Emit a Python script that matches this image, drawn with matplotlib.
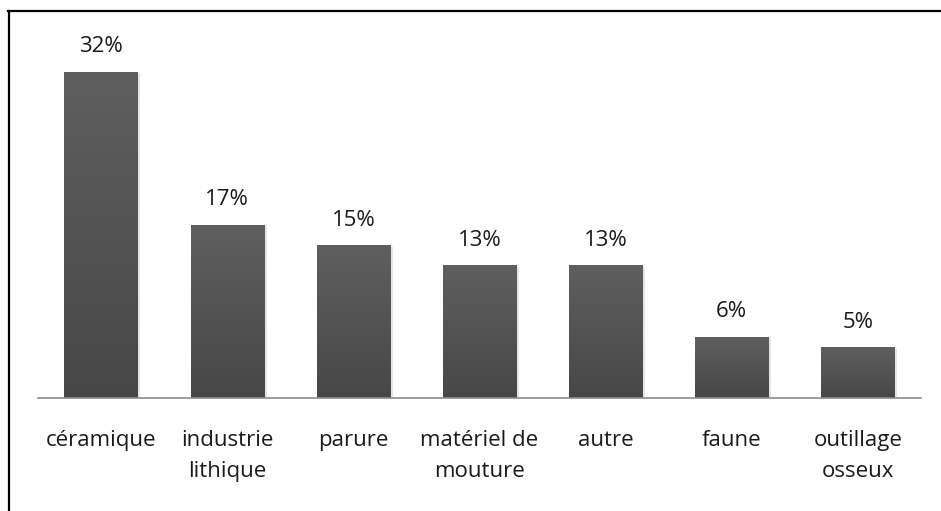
import matplotlib
matplotlib.use("Agg")
import matplotlib.pyplot as plt
from matplotlib.lines import Line2D
from matplotlib.colors import LinearSegmentedColormap
import numpy as np

categories = ["céramique", "industrie\nlithique", "parure", "matériel de\nmouture",
              "autre", "faune", "outillage\nosseux"]
values = [32, 17, 15, 13, 13, 6, 5]
labels = ["32%", "17%", "15%", "13%", "13%", "6%", "5%"]

W, H = 941, 511
fig = plt.figure(figsize=(W / 100, H / 100), dpi=100)
fig.patch.set_facecolor("white")

ax = fig.add_axes([38 / W, (H - 398) / H, (921 - 38) / W, (398 - 41) / H])
ax.set_xlim(-0.5, len(values) - 0.5)
ax.set_ylim(0, 35)

x = np.arange(len(values))
bw = 0.58
bars = ax.bar(x, values, width=bw, color="none", edgecolor="none", zorder=2)

grad = np.linspace(0, 1, 256).reshape(-1, 1)
cmap = LinearSegmentedColormap.from_list("g", ["#474747", "#5f5f5f"])
for b in bars:
    x0, y0 = b.get_x(), b.get_y()
    w, h = b.get_width(), b.get_height()
    ax.bar(x0 + w / 2 + 0.012, h, width=w + 0.02, bottom=y0 - 0.15,
           color="#d4d4d4", alpha=0.6, zorder=1)
    im = ax.imshow(grad, extent=[x0, x0 + w, y0, y0 + h], origin="lower",
                   cmap=cmap, aspect="auto", zorder=3)
    im.set_clip_path(b)

FS = 16
for xi, v, lab in zip(x, values, labels):
    ax.annotate(lab, (xi, v), xytext=(0, 18), textcoords="offset points",
                ha="center", va="center", fontsize=FS, family="Open Sans",
                color="#1a1a1a")

ax.set_xticks(x)
ax.set_xticklabels(categories, fontsize=FS, family="Open Sans", color="#1a1a1a",
                   linespacing=1.65, va="top")
ax.tick_params(axis="x", length=0, pad=23)
ax.set_yticks([])
for s in ["top", "right", "left"]:
    ax.spines[s].set_visible(False)
ax.spines["bottom"].set_color("#8c8c8c")
ax.spines["bottom"].set_linewidth(1.2)
ax.spines["bottom"].set_zorder(4)
ax.set_facecolor("none")

fig.add_artist(Line2D([8.5 / W, 8.5 / W], [0, (H - 11) / H], color="black",
                      linewidth=1.6, transform=fig.transFigure))
fig.add_artist(Line2D([8 / W, 1], [(H - 11.5) / H, (H - 11.5) / H], color="black",
                      linewidth=1.6, transform=fig.transFigure))

fig.savefig("out.png", dpi=100, facecolor="white")
